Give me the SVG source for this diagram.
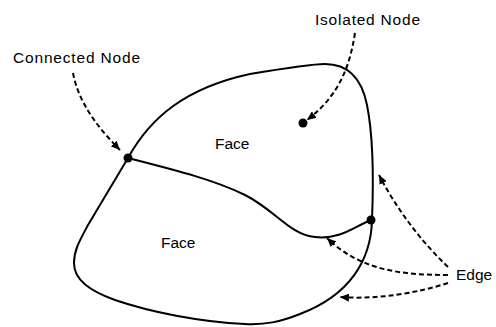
<svg xmlns="http://www.w3.org/2000/svg" width="496" height="327" viewBox="0 0 496 327">
<style>
.edge{fill:none;stroke:#000;stroke-width:2;stroke-linejoin:round}
.lead{fill:none;stroke:#000;stroke-width:2;stroke-dasharray:5,3}
.lbl{font-family:"Liberation Sans",Arial,sans-serif;font-size:15.5px;fill:#000}
.dot{fill:#000}
</style>
<defs>
<marker id="ah" markerUnits="userSpaceOnUse" markerWidth="10" markerHeight="8" refX="9" refY="4" orient="auto">
<path d="M0,0 L9,4 L0,8 z" fill="#000"/>
</marker>
</defs>
<rect width="496" height="327" fill="#fff"/>
<g id="connectors">
<path id="outer-edge" class="edge" d="M128,158 C150,118 185,88 250,74 C280,69 310,64 325,64 C350,64 362,80 367,105 C372,130 374,170 372,220 C371,260 350,295 300,314 C280,322 265,325 245,324 C200,322 150,312 115,300 C90,291 74,280 74,263 C74,250 80,240 88,225 Z"/>
<path id="inner-edge" class="edge" d="M128,158 C175,170 215,180 245,195 C275,210 290,235 315,237 C340,240 355,226 371,220"/>
<path class="lead" d="M73,73 C78,100 95,125 120,150" marker-end="url(#ah)"/>
<path class="lead" d="M355,33 C350,65 340,95 307,120" marker-end="url(#ah)"/>
<path class="lead" d="M448,267 C425,245 400,215 379,175" marker-end="url(#ah)"/>
<path class="lead" d="M448,275 C400,275 360,270 327,238" marker-end="url(#ah)"/>
<path class="lead" d="M448,283 C420,292 380,300 340,297" marker-end="url(#ah)"/>
</g>
<g id="connected-node"><circle class="dot" cx="128" cy="158" r="4.5"/></g>
<g id="edge-node"><circle class="dot" cx="371" cy="220" r="4.5"/></g>
<g id="isolated-node"><circle class="dot" cx="303" cy="123" r="4.5"/></g>
<g id="label-connected"><text class="lbl" x="13" y="63" textLength="127">Connected Node</text></g>
<g id="label-isolated"><text class="lbl" x="315" y="25" textLength="105">Isolated Node</text></g>
<g id="face-upper"><text class="lbl" x="215" y="149">Face</text></g>
<g id="face-lower"><text class="lbl" x="161" y="248">Face</text></g>
<g id="label-edge"><text class="lbl" x="456" y="280">Edge</text></g>
</svg>
